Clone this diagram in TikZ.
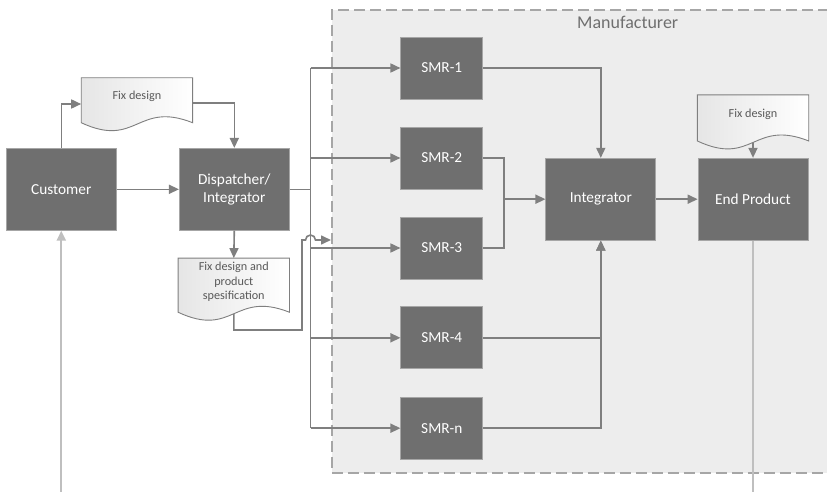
\documentclass[tikz,border=0pt]{standalone}
\usepackage{fontspec}
\setmainfont{Carlito}
\usetikzlibrary{arrows.meta,calc}

\definecolor{boxgray}{HTML}{6F6F6F}
\definecolor{boxedge}{HTML}{A6A6A6}
\definecolor{linegray}{HTML}{7F7F7F}
\definecolor{feedgray}{HTML}{BFBFBF}
\definecolor{zonefill}{HTML}{EDEDED}
\definecolor{zoneedge}{HTML}{A6A6A6}
\definecolor{doctext}{HTML}{595959}
\definecolor{zonetext}{HTML}{6F6F6F}

\tikzset{
  block/.style={rectangle, fill=boxgray, draw=boxedge, line width=0.7pt,
    text=white, font=\fontsize{15.3}{18.3}\selectfont, align=center,
    minimum width=110pt, minimum height=82pt, inner sep=0pt},
  smr/.style={block, minimum width=82pt, minimum height=62pt},
  docbox/.style={rectangle, minimum width=111pt, inner sep=0pt},
  doctxt/.style={text=doctext, font=\fontsize{12.2}{14.5}\selectfont,
    align=center, inner sep=0pt},
  docshape/.style={draw=linegray, line width=0.9pt, left color=black!10,
    right color=white},
  line/.style={draw=linegray, line width=1.6pt},
  flow/.style={line, -{Triangle[length=10pt,width=9pt]}},
  feed/.style={draw=feedgray, line width=2.2pt},
  zone/.style={rectangle, fill=zonefill, draw=zoneedge, line width=1.8pt,
    dash pattern=on 11pt off 5pt, inner sep=0pt, anchor=north west},
}

% document symbol: flat top, wavy bottom between the lower corners
\newcommand\drawdoc[1]{%
  \path[docshape] (#1.north west) -- (#1.north east) -- (#1.south east)
    .. controls ($(#1.south)+(0,22pt)$) and ($(#1.south)+(0,-26pt)$)
    .. (#1.south west) -- cycle;}

\begin{document}
\begin{tikzpicture}[x=1pt,y=-1pt]
\useasboundingbox (0,0) rectangle (827,492);

% manufacturer zone
\node[zone, minimum width=505pt, minimum height=463pt] (mfr) at (331,9) {};
\node[text=zonetext, font=\fontsize{18}{20}\selectfont, anchor=west,
  inner sep=0pt] (mfrlabel) at (577,22.5) {Manufacturer};

% process blocks
\node[block] (cust) at (61.3,189.3) {Customer};
\node[block] (disp) at (234.3,189.3) {Dispatcher/\\Integrator};
\node[smr] (smr1) at (441.8,68) {SMR-1};
\node[smr] (smr2) at (441.8,158) {SMR-2};
\node[smr] (smr3) at (441.8,248) {SMR-3};
\node[smr] (smr4) at (441.8,337.8) {SMR-4};
\node[smr] (smrn) at (441.8,428.2) {SMR-n};
\node[block] (integ) at (600.8,199.2) {Integrator};
\node[block] (endp) at (753,199.2) {End Product};

% document frames
\node[docbox, minimum height=44.5pt] (fd1) at (136.9,100.25) {};
\node[docbox, minimum height=53.7pt] (fd2) at (233.8,285.2) {};
\node[docbox, minimum height=45.7pt] (fd3) at (753,117.9) {};

% helper points
\coordinate (busx) at (310.5,0);
\coordinate (mrg) at (integ.west -| 504,0);

% external feeds
\draw[feed, -{Triangle[length=10pt,width=9pt]}] (cust.south |- 0,495) -- (cust.south);
\draw[feed] (endp.south) -- (endp.south |- 0,495);

% customer side
\draw[flow] (cust.north) |- (fd1.west |- 0,104);
\draw[flow] (fd1.east |- 0,103) -| (disp.north);
\draw[flow] (cust.east) -- (disp.west);
\draw[flow] (disp.south) -- (fd2.north);
\draw[flow] (fd2.south) -- (fd2.south |- 0,330) -- (302,330) -- (302,240)
  -- (305.5,240) arc[start angle=180, end angle=0, radius=5pt]
  -- (mfr.west |- 0,240);

% dispatch bus
\draw[line] (disp.east) -- (disp.east -| busx);
\draw[line] (smr1.west -| busx) -- (smrn.west -| busx);
\foreach \s in {smr1,smr2,smr3,smr4,smrn}
  \draw[flow] (\s.west -| busx) -- (\s.west);

% integration
\draw[flow] (smr1.east) -| (integ.north);
\draw[line] (smr2.east) -| (mrg) |- (smr3.east);
\draw[flow] (mrg) -- (integ.west);
\draw[flow] (smr4.east) -| (integ.south);
\draw[flow] (smrn.east) -| (integ.south);
\draw[flow] (integ.east) -- (endp.west);
\draw[flow] (fd3.south) -- (endp.north);

% documents on top of their connector ends
\drawdoc{fd1}
\drawdoc{fd2}
\drawdoc{fd3}
\node[doctxt] (fd1t) at (136.9,96) {Fix design};
\node[doctxt] (fd2t) at (233.8,282) {Fix design and\\product\\spesification};
\node[doctxt] (fd3t) at (753,114) {Fix design};
\end{tikzpicture}
\end{document}
